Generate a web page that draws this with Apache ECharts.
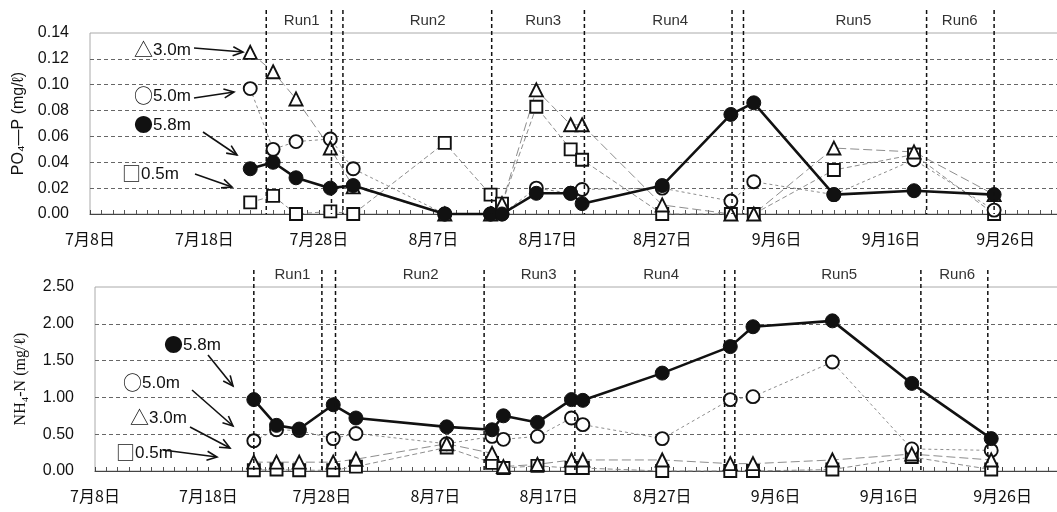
<!DOCTYPE html>
<html>
<head>
<meta charset="utf-8">
<script src="https://cdn.jsdelivr.net/npm/echarts@6/dist/echarts.min.js"></script>
<style>
  html, body { margin: 0; padding: 0; background: #fff; }
  #chart { width: 1057px; height: 512px; }
</style>
</head>
<body>
<div id="chart"></div>
<script>
// Sampling dates (month/day) shared by both panels
const sampleDates = ['7/22', '7/24', '7/26', '7/29', '7/31', '8/8', '8/12', '8/13', '8/16',
                     '8/19', '8/20', '8/27', '9/2', '9/4', '9/11', '9/18', '9/25'];

// Date-axis tick labels, one every 10 days from 7/8
const xTickLabels = ['7月8日', '7月18日', '7月28日', '8月7日', '8月17日', '8月27日', '9月6日', '9月16日', '9月26日'];

// PO4-P (mg/l) by depth
const po4_05 = [0.009, 0.014, 0.000, 0.002, 0.000, 0.055, 0.015, 0.008, 0.083, 0.050, 0.042, 0.000, 0.000, 0.000, 0.034, 0.046, 0.000];
const po4_30 = [0.125, 0.110, 0.089, 0.051, 0.021, 0.000, 0.000, 0.008, 0.096, 0.069, 0.069, 0.007, 0.000, 0.000, 0.051, 0.048, 0.015];
const po4_50 = [0.097, 0.050, 0.056, 0.058, 0.035, 0.000, 0.000, 0.000, 0.020, 0.016, 0.019, 0.020, 0.010, 0.025, 0.015, 0.042, 0.003];
const po4_58 = [0.035, 0.040, 0.028, 0.020, 0.022, 0.000, 0.000, 0.000, 0.016, 0.016, 0.008, 0.022, 0.077, 0.086, 0.015, 0.018, 0.015];

// NH4-N (mg/l) by depth
const nh4_05 = [0.01, 0.02, 0.01, 0.01, 0.06, 0.32, 0.11, 0.04, 0.07, 0.04, 0.04, 0.00, 0.00, 0.00, 0.02, 0.19, 0.02];
const nh4_30 = [0.12, 0.12, 0.12, 0.12, 0.16, 0.37, 0.24, 0.06, 0.09, 0.15, 0.15, 0.15, 0.10, 0.10, 0.15, 0.23, 0.15];
const nh4_50 = [0.41, 0.56, 0.55, 0.44, 0.51, 0.37, 0.47, 0.43, 0.47, 0.72, 0.63, 0.44, 0.97, 1.01, 1.48, 0.30, 0.28];
const nh4_58 = [0.97, 0.62, 0.57, 0.90, 0.72, 0.60, 0.56, 0.75, 0.66, 0.97, 0.96, 1.33, 1.69, 1.96, 2.04, 1.19, 0.44];

// Run boundaries and run-label centres, in days after 7/8
const runNames = ['Run1', 'Run2', 'Run3', 'Run4', 'Run5', 'Run6'];
const po4RunEdges = [15.4, 21.1, 22.1, 35.1, 43.2, 56.1, 57.1, 73.1, 79.0];
const nh4RunEdges = [14.0, 20.0, 21.2, 34.3, 42.3, 55.5, 56.4, 72.8, 78.7];
const po4RunLabelDays = [18.5, 29.5, 39.6, 50.7, 66.7, 76.0];
const nh4RunLabelDays = [17.4, 28.7, 39.1, 49.9, 65.6, 76.0];

// days elapsed since 7/8
function dayOf(s) {
  const [m, d] = s.split('/').map(Number);
  if (m === 7) return d - 8;
  if (m === 8) return d + 23;
  return d + 54;
}

const SANS = '"Liberation Sans", Arial, sans-serif';
const CJK = '"Noto Sans CJK JP", sans-serif';

const styles = {
  s05: { symbol: 'rect', size: 12, filled: false, line: { color: '#808080', width: 0.9, type: [5, 3] } },
  s50: { symbol: 'circle', size: 13, filled: false, line: { color: '#808080', width: 0.9, type: [3, 3] } },
  s30: { symbol: 'triangle', size: 13, filled: false, line: { color: '#808080', width: 0.9, type: [9, 4] } },
  s58: { symbol: 'circle', size: 14, filled: true, line: { color: '#111', width: 2.6, type: 'solid' } }
};

function makeSeries(name, values, g, st) {
  return {
    type: 'line',
    name: name,
    xAxisIndex: g,
    yAxisIndex: g,
    data: sampleDates.map((d, i) => [dayOf(d), values[i]]),
    symbol: st.symbol,
    symbolSize: st.size,
    showSymbol: true,
    clip: false,
    connectNulls: true,
    itemStyle: st.filled
      ? { color: '#111', borderColor: '#111', borderWidth: 1 }
      : { color: '#fff', borderColor: '#111', borderWidth: 1.9 },
    lineStyle: st.line,
    emphasis: { disabled: true },
    animation: false
  };
}

function xAxisFor(g) {
  return {
    type: 'value',
    gridIndex: g,
    min: 0,
    max: 90,
    interval: 10,
    axisLine: { show: true, lineStyle: { color: '#444', width: 1 } },
    axisTick: { show: true, inside: true, length: 4, lineStyle: { color: '#444' } },
    minorTick: { show: true, splitNumber: 10, length: 4, lineStyle: { color: '#555' } },
    splitLine: { show: false },
    axisLabel: {
      margin: 17,
      fontSize: 16,
      fontFamily: CJK,
      color: '#111',
      showMaxLabel: false,
      formatter: v => (v % 10 === 0 && xTickLabels[v / 10]) ? xTickLabels[v / 10] : ''
    }
  };
}

function yAxisFor(g, max, interval, name, nameFont, nameGap) {
  return {
    type: 'value',
    gridIndex: g,
    min: 0,
    max: max,
    interval: interval,
    name: name,
    nameLocation: 'middle',
    nameRotate: 90,
    nameGap: nameGap,
    nameTextStyle: { fontSize: 16, fontFamily: nameFont, color: '#111' },
    axisLine: { show: false },
    axisTick: { show: false },
    splitLine: { show: true, showMinLine: false, showMaxLine: false, lineStyle: { color: '#666', type: [4, 3], width: 1 } },
    axisLabel: { fontSize: 16, fontFamily: SANS, color: '#111', margin: 21, formatter: v => v.toFixed(2) }
  };
}

const chart = echarts.init(document.getElementById('chart'), null, { renderer: 'canvas' });

// plot areas run past the right edge of the page, as in the printed figure
chart.setOption({
  animation: false,
  textStyle: { fontFamily: SANS },
  grid: [
    { left: 90, top: 33, width: 1030, height: 181, outerBoundsMode: 'none', containLabel: false,
      show: true, borderColor: '#aaa', borderWidth: 1 },
    { left: 95, top: 287, width: 1021, height: 184, outerBoundsMode: 'none', containLabel: false,
      show: true, borderColor: '#aaa', borderWidth: 1 }
  ],
  xAxis: [xAxisFor(0), xAxisFor(1)],
  yAxis: [
    yAxisFor(0, 0.14, 0.02, 'PO₄—P (mg/ℓ)', SANS, 63),
    yAxisFor(1, 2.5, 0.5, 'NH₄-N (mg/ℓ)', '"Liberation Serif", serif', 66)
  ],
  series: [
    makeSeries('0.5m', po4_05, 0, styles.s05),
    makeSeries('5.0m', po4_50, 0, styles.s50),
    makeSeries('3.0m', po4_30, 0, styles.s30),
    makeSeries('5.8m', po4_58, 0, styles.s58),
    makeSeries('0.5m', nh4_05, 1, styles.s05),
    makeSeries('5.0m', nh4_50, 1, styles.s50),
    makeSeries('3.0m', nh4_30, 1, styles.s30),
    makeSeries('5.8m', nh4_58, 1, styles.s58)
  ]
});

// ---- annotations: run boundaries, run names, depth callouts ----
const graphics = [];

function runDecor(g, edges, labelDays, yMax, extend) {
  edges.forEach(day => {
    const bottom = chart.convertToPixel({ gridIndex: g }, [day, 0]);
    const top = chart.convertToPixel({ gridIndex: g }, [day, yMax]);
    graphics.push({
      type: 'line',
      silent: true,
      z: 50,
      shape: { x1: bottom[0], y1: top[1] - extend, x2: bottom[0], y2: bottom[1] },
      style: { stroke: '#111', lineWidth: 1.5, lineDash: [4, 3] }
    });
  });
  labelDays.forEach((day, i) => {
    const p = chart.convertToPixel({ gridIndex: g }, [day, yMax]);
    graphics.push({
      type: 'text',
      silent: true,
      z: 50,
      style: {
        x: p[0], y: p[1] - 12, text: runNames[i],
        align: 'center', verticalAlign: 'middle',
        fontSize: 15, fontFamily: SANS, fill: '#333'
      }
    });
  });
}

runDecor(0, po4RunEdges, po4RunLabelDays, 0.14, 23);
runDecor(1, nh4RunEdges, nh4RunLabelDays, 2.5, 17);

function callout(sym, label, tx, ty, ax1, ay1, ax2, ay2) {
  graphics.push({
    type: 'text',
    silent: true,
    z: 60,
    style: {
      x: tx, y: ty, text: '{s|' + sym + '}' + label,
      align: 'left', verticalAlign: 'middle',
      fontSize: 17, fontFamily: SANS, fill: '#111',
      rich: { s: { fontSize: 19, fontFamily: CJK, fill: '#111' } }
    }
  });
  const ang = Math.atan2(ay2 - ay1, ax2 - ax1);
  const hl = 11, ha = 0.42;
  graphics.push({
    type: 'polyline', silent: true, z: 60,
    shape: { points: [[ax1, ay1], [ax2, ay2]] },
    style: { stroke: '#111', lineWidth: 1.6, fill: null }
  });
  graphics.push({
    type: 'polyline', silent: true, z: 60,
    shape: {
      points: [
        [ax2 - hl * Math.cos(ang - ha), ay2 - hl * Math.sin(ang - ha)],
        [ax2, ay2],
        [ax2 - hl * Math.cos(ang + ha), ay2 - hl * Math.sin(ang + ha)]
      ]
    },
    style: { stroke: '#111', lineWidth: 1.6, fill: null }
  });
}

// upper panel callouts
callout('△', '3.0m', 134, 50, 194, 48, 243, 52);
callout('○', '5.0m', 134, 96, 194, 98, 234, 92);
callout('●', '5.8m', 134, 125, 203, 132, 237, 155);
callout('□', '0.5m', 122, 174, 195, 174, 232, 187);

// lower panel callouts
callout('●', '5.8m', 164, 345, 208, 355, 233, 386);
callout('○', '5.0m', 123, 383, 192, 390, 233, 426);
callout('△', '3.0m', 130, 418, 190, 427, 230, 448);
callout('□', '0.5m', 116, 453, 163, 450, 217, 457);

chart.setOption({ graphic: graphics });
</script>
</body>
</html>
